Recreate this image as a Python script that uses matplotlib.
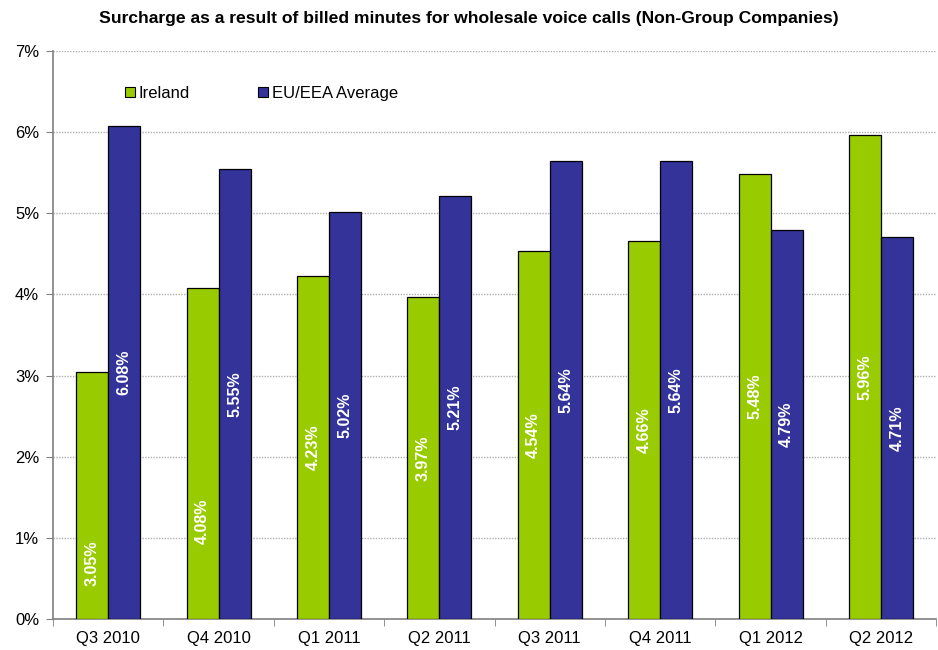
import numpy as np
import matplotlib.pyplot as plt
from matplotlib.patches import Patch

plt.rcParams['font.family'] = ['Liberation Sans', 'DejaVu Sans']

# data
quarters = ['Q3 2010', 'Q4 2010', 'Q1 2011', 'Q2 2011', 'Q3 2011', 'Q4 2011', 'Q1 2012', 'Q2 2012']
ireland = [3.05, 4.08, 4.23, 3.97, 4.54, 4.66, 5.48, 5.96]
eu_avg = [6.08, 5.55, 5.02, 5.21, 5.64, 5.64, 4.79, 4.71]

green = '#99CC00'
blue = '#333399'

fig = plt.figure(figsize=(9.38, 6.5), dpi=100)
ax = fig.add_axes([0.0565, 0.0477, 0.9415, 0.8738])

x = np.arange(len(quarters))
w = 0.29
ax.bar(x - w / 2, ireland, w, color=green, edgecolor='black', linewidth=0.9, zorder=3)
ax.bar(x + w / 2, eu_avg, w, color=blue, edgecolor='black', linewidth=0.9, zorder=3)

# value labels sit mid-bar; the first two Ireland labels were nudged down
low_labels = {0: 0.69, 1: 1.2}
for i, v in enumerate(ireland):
    ax.text(x[i] - w / 2, low_labels.get(i, v / 2), f'{v:.2f}%', rotation=90, color='white',
            fontsize=11.5, fontweight='bold', ha='center', va='center', zorder=4)
for i, v in enumerate(eu_avg):
    ax.text(x[i] + w / 2, v / 2, f'{v:.2f}%', rotation=90, color='white',
            fontsize=11.5, fontweight='bold', ha='center', va='center', zorder=4)

ax.set_xlim(-0.5, len(quarters) - 0.5)
ax.set_ylim(0, 7)
ax.set_yticks(range(8))
ax.set_yticklabels([f'{t}%' for t in range(8)], fontsize=12)
ax.set_xticks(x)
ax.set_xticklabels(quarters, fontsize=12)
ax.tick_params(axis='x', length=0, pad=9)
ax.set_xticks(np.arange(-0.5, len(quarters)), minor=True)
ax.tick_params(axis='x', which='minor', length=5, color='#808080')
ax.tick_params(axis='y', length=5, color='#808080', pad=5)

ax.grid(axis='y', linestyle=(0, (1, 1)), color='#b0b0b0', linewidth=1, zorder=0)
for s in ['top', 'right']:
    ax.spines[s].set_visible(False)
for s in ['left', 'bottom']:
    ax.spines[s].set_color('#808080')
    ax.spines[s].set_linewidth(1.2)

handles = [Patch(facecolor=green, edgecolor='black', linewidth=0.8),
           Patch(facecolor=blue, edgecolor='black', linewidth=0.8)]
ax.legend(handles, ['Ireland', 'EU/EEA Average'], ncol=2, frameon=False, fontsize=12,
          loc='upper left', bbox_to_anchor=(0.064, 0.965), handlelength=0.6, handleheight=0.6,
          handletextpad=0.25, columnspacing=4.1)

fig.text(0.5, 0.972, 'Surcharge as a result of billed minutes for wholesale voice calls (Non-Group Companies)',
         ha='center', va='center', fontsize=12.6, fontweight='bold')

fig.savefig('out.png', dpi=100)
